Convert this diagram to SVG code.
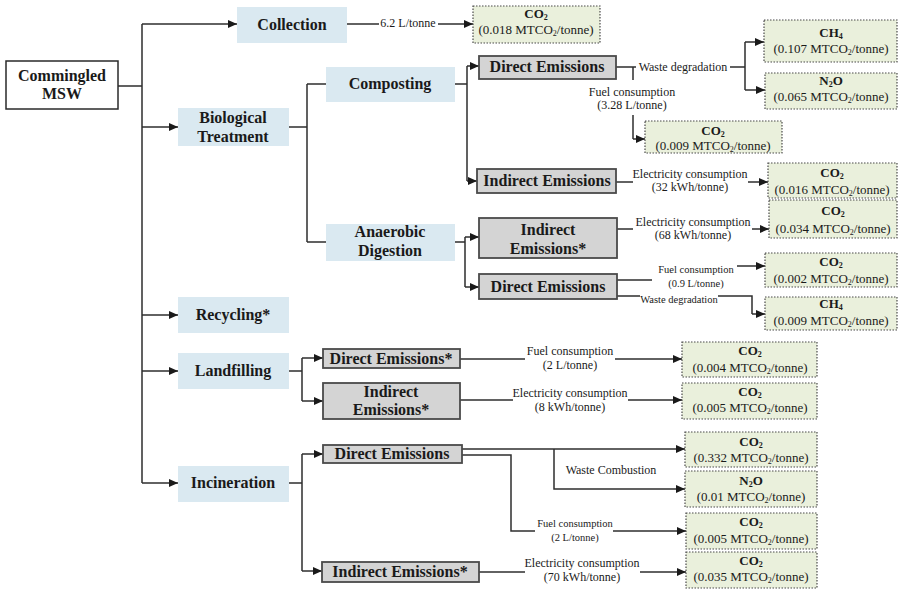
<svg xmlns="http://www.w3.org/2000/svg" width="899" height="589" viewBox="0 0 899 589">
  <defs>
    <marker id="arr" markerWidth="9" markerHeight="8" refX="9" refY="4" orient="auto" markerUnits="userSpaceOnUse">
      <path d="M0,0 L9,4 L0,8 z" fill="#1a1a1a"/>
    </marker>
    <style>
      text { font-family: "Liberation Serif", "Times New Roman", serif; fill: #1a1a1a; text-anchor: middle; }
      .nl { font-size: 16px; font-weight: bold; }
      .gh { font-size: 13px; font-weight: bold; }
      .gv { font-size: 13px; }
      .lb { font-size: 12px; }
      .ls { font-size: 10.5px; }
      .sb { font-size: 8px; baseline-shift: -2px; }
      .root { fill: #ffffff; stroke: #2a2a2a; stroke-width: 1.5; }
      .proc { fill: #dae9f1; }
      .emis { fill: #d4d4d4; stroke: #4a4a4a; stroke-width: 1.8; }
      .gas { fill: #eaf0dc; stroke: #4a4a4a; stroke-width: 1.2; stroke-dasharray: 1.5 1.5; }
      .ln { fill: none; stroke: #2e2e2e; stroke-width: 1.5; }
      .ar { marker-end: url(#arr); }
    </style>
  </defs>

  <rect width="899" height="589" fill="#ffffff"/>

  <!-- connectors -->
  <g id="connectors">
    <!-- root trunk -->
    <path class="ln" d="M118,86 H142 M142,24 V483"/>
    <path class="ln ar" d="M142,24 H237"/>
    <path class="ln ar" d="M142,127 H178"/>
    <path class="ln ar" d="M142,315 H178"/>
    <path class="ln ar" d="M142,371 H178"/>
    <path class="ln ar" d="M142,483 H178"/>

    <!-- collection -->
    <path class="ln" d="M347,24 H379"/>
    <path class="ln ar" d="M438,24 H473"/>
    <text class="lb" x="408" y="27">6.2 L/tonne</text>

    <!-- biological treatment split -->
    <path class="ln" d="M289,127 H307 M307,84 V242 M307,84 H326 M307,242 H326"/>

    <!-- composting -->
    <path class="ln" d="M455,84 H467 M467,66 V181"/>
    <path class="ln ar" d="M467,66 H479"/>
    <path class="ln ar" d="M467,181 H477"/>

    <!-- composting direct emissions -->
    <path class="ln" d="M616,67 H636 M730,67 H745 M745,42 V90 M633,67 V80"/>
    <path class="ln ar" d="M745,42 H764"/>
    <path class="ln ar" d="M745,90 H765"/>
    <text class="lb" x="683" y="71">Waste degradation</text>
    <text class="lb" x="632" y="96">Fuel consumption</text>
    <text class="lb" x="632" y="109">(3.28 L/tonne)</text>
    <path class="ln" d="M633,115 V139"/>
    <path class="ln ar" d="M633,139 H645"/>

    <!-- composting indirect emissions -->
    <path class="ln" d="M616,182 H633"/>
    <path class="ln ar" d="M748,182 H768"/>
    <text class="lb" x="690" y="178">Electricity consumption</text>
    <text class="lb" x="690" y="191">(32 kWh/tonne)</text>

    <!-- anaerobic digestion -->
    <path class="ln" d="M455,242 H465 M465,237 V287"/>
    <path class="ln ar" d="M465,237 H479"/>
    <path class="ln ar" d="M465,287 H479"/>

    <!-- AD indirect emissions -->
    <path class="ln" d="M617,229 H633"/>
    <path class="ln ar" d="M752,229 H769"/>
    <text class="lb" x="693" y="226">Electricity consumption</text>
    <text class="lb" x="693" y="239">(68 kWh/tonne)</text>

    <!-- AD direct emissions -->
    <path class="ln" d="M617,280 H652"/>
    <path class="ln ar" d="M737,266 H765"/>
    <text class="ls" x="696" y="273">Fuel consumption</text>
    <text class="ls" x="696" y="287">(0.9 L/tonne)</text>
    <path class="ln" d="M617,296 H640 M718,296 H752 V314"/>
    <path class="ln ar" d="M752,314 H765"/>
    <text class="ls" x="679" y="303">Waste degradation</text>

    <!-- landfilling -->
    <path class="ln" d="M289,371 H302 M302,358 V401"/>
    <path class="ln ar" d="M302,358 H323"/>
    <path class="ln ar" d="M302,401 H323"/>
    <path class="ln" d="M460,359 H525"/>
    <path class="ln ar" d="M615,359 H682"/>
    <text class="lb" x="570" y="355">Fuel consumption</text>
    <text class="lb" x="570" y="369">(2 L/tonne)</text>
    <path class="ln" d="M460,400 H513"/>
    <path class="ln ar" d="M628,400 H682"/>
    <text class="lb" x="570" y="397">Electricity consumption</text>
    <text class="lb" x="570" y="411">(8 kWh/tonne)</text>

    <!-- incineration -->
    <path class="ln" d="M289,483 H302 M302,454 V571"/>
    <path class="ln ar" d="M302,454 H323"/>
    <path class="ln ar" d="M302,571 H322"/>
    <path class="ln ar" d="M462,449 H685"/>
    <path class="ln ar" d="M554,449 V489 H685"/>
    <text class="lb" x="611" y="474">Waste Combustion</text>
    <path class="ln" d="M462,455 H511 V531 H535"/>
    <path class="ln ar" d="M613,531 H686"/>
    <text class="ls" x="575" y="527">Fuel consumption</text>
    <text class="ls" x="575" y="541">(2 L/tonne)</text>
    <path class="ln" d="M479,572 H525"/>
    <path class="ln ar" d="M640,572 H686"/>
    <text class="lb" x="582" y="567">Electricity consumption</text>
    <text class="lb" x="582" y="581">(70 kWh/tonne)</text>
  </g>

  <!-- source -->
  <g id="msw">
    <rect class="root" x="6" y="61" width="112" height="48"/>
    <text class="nl" x="62" y="81">Commingled</text>
    <text class="nl" x="62" y="99">MSW</text>
  </g>

  <!-- processes -->
  <g id="collection">
    <rect class="proc" x="237" y="7" width="110" height="36"/>
    <text class="nl" x="292" y="30">Collection</text>
  </g>
  <g id="biological">
    <rect class="proc" x="178" y="108" width="111" height="38"/>
    <text class="nl" x="233" y="123">Biological</text>
    <text class="nl" x="233" y="142">Treatment</text>
  </g>
  <g id="composting">
    <rect class="proc" x="326" y="67" width="129" height="35"/>
    <text class="nl" x="390" y="89">Composting</text>
  </g>
  <g id="anaerobic">
    <rect class="proc" x="326" y="224" width="129" height="37"/>
    <text class="nl" x="390" y="237">Anaerobic</text>
    <text class="nl" x="390" y="256">Digestion</text>
  </g>
  <g id="recycling">
    <rect class="proc" x="178" y="297" width="111" height="36"/>
    <text class="nl" x="233" y="320">Recycling*</text>
  </g>
  <g id="landfilling">
    <rect class="proc" x="178" y="353" width="111" height="36"/>
    <text class="nl" x="233" y="376">Landfilling</text>
  </g>
  <g id="incineration">
    <rect class="proc" x="178" y="466" width="111" height="36"/>
    <text class="nl" x="233" y="488">Incineration</text>
  </g>

  <!-- emission categories -->
  <g id="comp-direct">
    <rect class="emis" x="479" y="56" width="137" height="23"/>
    <text class="nl" x="547" y="72">Direct Emissions</text>
  </g>
  <g id="comp-indirect">
    <rect class="emis" x="477" y="169" width="139" height="24"/>
    <text class="nl" x="547" y="186">Indirect Emissions</text>
  </g>
  <g id="ad-indirect">
    <rect class="emis" x="479" y="218" width="138" height="40"/>
    <text class="nl" x="548" y="235">Indirect</text>
    <text class="nl" x="548" y="254">Emissions*</text>
  </g>
  <g id="ad-direct">
    <rect class="emis" x="479" y="274" width="138" height="25"/>
    <text class="nl" x="548" y="292">Direct Emissions</text>
  </g>
  <g id="lf-direct">
    <rect class="emis" x="323" y="349" width="137" height="19"/>
    <text class="nl" x="391" y="364">Direct Emissions*</text>
  </g>
  <g id="lf-indirect">
    <rect class="emis" x="323" y="383" width="137" height="36"/>
    <text class="nl" x="391" y="397">Indirect</text>
    <text class="nl" x="391" y="415">Emissions*</text>
  </g>
  <g id="inc-direct">
    <rect class="emis" x="323" y="445" width="139" height="18"/>
    <text class="nl" x="392" y="459">Direct Emissions</text>
  </g>
  <g id="inc-indirect">
    <rect class="emis" x="322" y="562" width="157" height="20"/>
    <text class="nl" x="400" y="577">Indirect Emissions*</text>
  </g>

  <!-- gas outputs -->
  <g id="col-co2">
    <rect class="gas" x="473" y="6" width="127" height="37"/>
    <text class="gh" x="536" y="18">CO<tspan class="sb">2</tspan></text>
    <text class="gv" x="536" y="34">(0.018 MTCO<tspan class="sb">2</tspan>/tonne)</text>
  </g>
  <g id="comp-ch4">
    <rect class="gas" x="764" y="20" width="133" height="42"/>
    <text class="gh" x="831" y="37">CH<tspan class="sb">4</tspan></text>
    <text class="gv" x="831" y="53">(0.107 MTCO<tspan class="sb">2</tspan>/tonne)</text>
  </g>
  <g id="comp-n2o">
    <rect class="gas" x="765" y="73" width="132" height="36"/>
    <text class="gh" x="831" y="85">N<tspan class="sb">2</tspan>O</text>
    <text class="gv" x="831" y="101">(0.065 MTCO<tspan class="sb">2</tspan>/tonne)</text>
  </g>
  <g id="comp-co2">
    <rect class="gas" x="645" y="121" width="137" height="32"/>
    <text class="gh" x="713" y="135">CO<tspan class="sb">2</tspan></text>
    <text class="gv" x="713" y="150">(0.009 MTCO<tspan class="sb">2</tspan>/tonne)</text>
  </g>
  <g id="comp-elec-co2">
    <rect class="gas" x="768" y="163" width="129" height="35"/>
    <text class="gh" x="832" y="177">CO<tspan class="sb">2</tspan></text>
    <text class="gv" x="832" y="194">(0.016 MTCO<tspan class="sb">2</tspan>/tonne)</text>
  </g>
  <g id="ad-elec-co2">
    <rect class="gas" x="769" y="200" width="128" height="38"/>
    <text class="gh" x="833" y="215">CO<tspan class="sb">2</tspan></text>
    <text class="gv" x="833" y="233">(0.034 MTCO<tspan class="sb">2</tspan>/tonne)</text>
  </g>
  <g id="ad-co2">
    <rect class="gas" x="765" y="253" width="132" height="34"/>
    <text class="gh" x="831" y="266">CO<tspan class="sb">2</tspan></text>
    <text class="gv" x="831" y="283">(0.002 MTCO<tspan class="sb">2</tspan>/tonne)</text>
  </g>
  <g id="ad-ch4">
    <rect class="gas" x="765" y="297" width="132" height="33"/>
    <text class="gh" x="831" y="308">CH<tspan class="sb">4</tspan></text>
    <text class="gv" x="831" y="325">(0.009 MTCO<tspan class="sb">2</tspan>/tonne)</text>
  </g>
  <g id="lf-co2-fuel">
    <rect class="gas" x="682" y="342" width="135" height="35"/>
    <text class="gh" x="750" y="355">CO<tspan class="sb">2</tspan></text>
    <text class="gv" x="750" y="372">(0.004 MTCO<tspan class="sb">2</tspan>/tonne)</text>
  </g>
  <g id="lf-co2-elec">
    <rect class="gas" x="682" y="383" width="135" height="36"/>
    <text class="gh" x="750" y="396">CO<tspan class="sb">2</tspan></text>
    <text class="gv" x="750" y="412">(0.005 MTCO<tspan class="sb">2</tspan>/tonne)</text>
  </g>
  <g id="inc-co2">
    <rect class="gas" x="685" y="432" width="132" height="35"/>
    <text class="gh" x="751" y="446">CO<tspan class="sb">2</tspan></text>
    <text class="gv" x="751" y="462">(0.332 MTCO<tspan class="sb">2</tspan>/tonne)</text>
  </g>
  <g id="inc-n2o">
    <rect class="gas" x="685" y="471" width="132" height="36"/>
    <text class="gh" x="751" y="485">N<tspan class="sb">2</tspan>O</text>
    <text class="gv" x="751" y="501">(0.01 MTCO<tspan class="sb">2</tspan>/tonne)</text>
  </g>
  <g id="inc-co2-fuel">
    <rect class="gas" x="686" y="513" width="131" height="36"/>
    <text class="gh" x="751" y="526">CO<tspan class="sb">2</tspan></text>
    <text class="gv" x="751" y="543">(0.005 MTCO<tspan class="sb">2</tspan>/tonne)</text>
  </g>
  <g id="inc-co2-elec">
    <rect class="gas" x="686" y="552" width="131" height="36"/>
    <text class="gh" x="751" y="565">CO<tspan class="sb">2</tspan></text>
    <text class="gv" x="751" y="581">(0.035 MTCO<tspan class="sb">2</tspan>/tonne)</text>
  </g>
</svg>
